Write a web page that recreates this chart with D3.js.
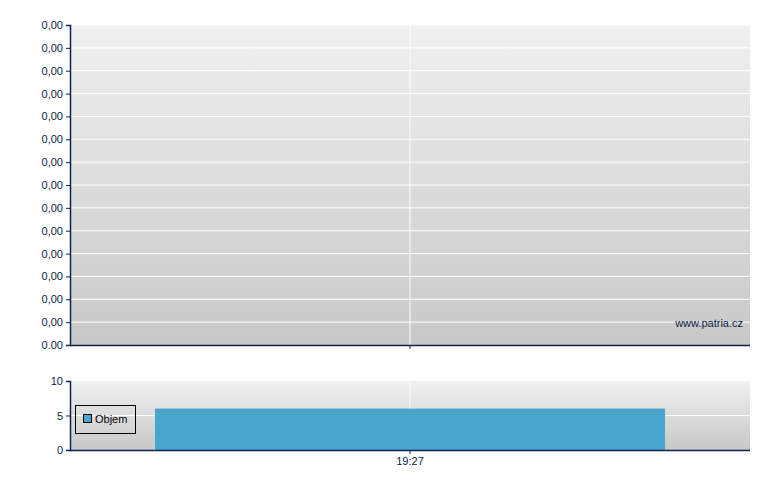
<!DOCTYPE html>
<html><head><meta charset="utf-8">
<script src="https://cdn.jsdelivr.net/npm/d3@7"></script>
<style>body{margin:0;background:#fff}svg{display:block}text{font-family:"Liberation Sans",Arial,sans-serif;font-size:11px;fill:#0b1f45}</style>
</head><body><svg id="c" width="780" height="490"></svg>
<script>
const priceTicks = ["0.00","0,00","0,00","0,00","0,00","0,00","0,00","0,00","0,00","0,00","0,00","0,00","0,00","0,00","0,00"];
const times = ["19:27"];
const volumes = [6];
const volTicks = [0,5,10];
const legendLabel = "Objem";
const watermark = "www.patria.cz";

const svg = d3.select("#c");
const L=70,R=750, T1=25,B1=345, T2=381,B2=450;
const axisCol="#0a2456", barCol="#47a5ce";

const defs=svg.append("defs");
const g=defs.append("linearGradient").attr("id","bg").attr("x1",0).attr("x2",0).attr("y1",0).attr("y2",1);
g.append("stop").attr("offset","0").attr("stop-color","#f0f0f0");
g.append("stop").attr("offset","1").attr("stop-color","#c8c8c8");

const x = d3.scaleBand().domain(times).range([L,R]).padding(1/7);
const xc = d=>x(d)+x.bandwidth()/2;

// top panel
const y1 = d3.scaleLinear().domain([0,priceTicks.length-1]).range([B1,T1]);
svg.append("rect").attr("x",L).attr("y",T1).attr("width",R-L).attr("height",B1-T1).attr("fill","url(#bg)");
priceTicks.forEach((t,i)=>{ if(i>0) svg.append("line").attr("x1",L).attr("x2",R).attr("y1",y1(i)).attr("y2",y1(i)).attr("stroke","#fff").attr("stroke-width",1);});
times.forEach(t=>svg.append("line").attr("x1",xc(t)).attr("x2",xc(t)).attr("y1",T1).attr("y2",B1).attr("stroke","#fff"));
const ax1 = svg.append("g").attr("transform",`translate(${L},0)`).call(d3.axisLeft(y1).tickValues(d3.range(priceTicks.length)).tickFormat(i=>priceTicks[i]).tickSize(4).tickPadding(3));
const bx1 = svg.append("g").attr("transform",`translate(0,${B1})`).call(d3.axisBottom(x).tickSize(4).tickFormat(""));
svg.append("text").attr("x",743).attr("y",327).attr("text-anchor","end").text(watermark);

// bottom panel
const y2 = d3.scaleLinear().domain([0,10]).range([B2,T2]);
svg.append("rect").attr("x",L).attr("y",T2).attr("width",R-L).attr("height",B2-T2).attr("fill","url(#bg)");
volTicks.forEach(v=>{ if(v>0 && v<10) svg.append("line").attr("x1",L).attr("x2",R).attr("y1",y2(v)).attr("y2",y2(v)).attr("stroke","#fff");});
times.forEach(t=>svg.append("line").attr("x1",xc(t)).attr("x2",xc(t)).attr("y1",T2).attr("y2",B2).attr("stroke","#fff"));
svg.selectAll(".bar").data(volumes).join("rect").attr("class","bar")
  .attr("x",(d,i)=>x(times[i])).attr("width",x.bandwidth())
  .attr("y",d=>y2(d)).attr("height",d=>B2-y2(d)).attr("fill",barCol);
const ax2 = svg.append("g").attr("transform",`translate(${L},0)`).call(d3.axisLeft(y2).tickValues(volTicks).tickSize(4).tickPadding(3));
const bx2 = svg.append("g").attr("transform",`translate(0,${B2})`).call(d3.axisBottom(x).tickSize(4).tickPadding(3));

[ax1,bx1,ax2,bx2].forEach(a=>{a.select(".domain").attr("stroke",axisCol).attr("stroke-width",1.5);a.selectAll(".tick line").attr("stroke",axisCol);a.selectAll("text").attr("fill","#0b1f45").style("font-family","'Liberation Sans',Arial,sans-serif").style("font-size","11px");});
bx1.select(".domain").attr("d",`M${L},0.5H${R}`);
bx2.select(".domain").attr("d",`M${L},0.5H${R}`);

// legend
const lg=svg.append("g");
lg.append("rect").attr("x",75.5).attr("y",405.5).attr("width",60).attr("height",28).attr("fill","none").attr("stroke","#000");
lg.append("rect").attr("x",83.5).attr("y",414.5).attr("width",8).attr("height",8).attr("fill",barCol).attr("stroke","#000");
lg.append("text").attr("x",95).attr("y",423).text(legendLabel).style("fill","#000");
</script></body></html>
